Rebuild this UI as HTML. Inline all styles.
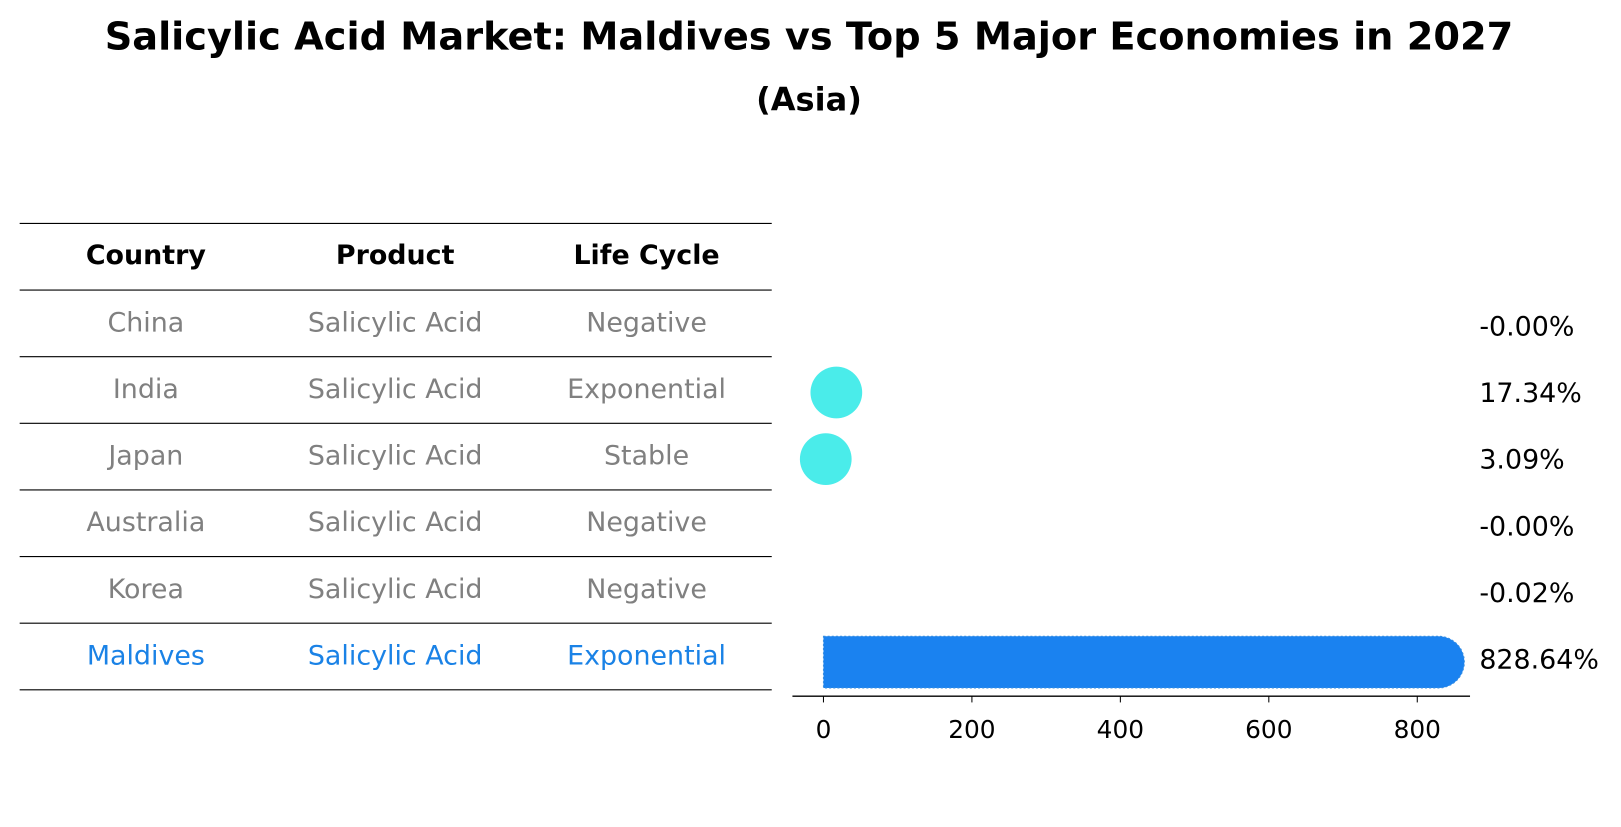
<!DOCTYPE html>
<html><head><meta charset="utf-8"><style>
body{margin:0;background:#fff;font-family:"DejaVu Sans","Liberation Sans",sans-serif}
svg text{font-family:"DejaVu Sans","Liberation Sans",sans-serif}
</style></head><body>
<svg id="c" width="1621" height="823" viewBox="0 0 1621 823" xmlns="http://www.w3.org/2000/svg">
<g transform="scale(1.0345)">
<text x="782" y="36" text-anchor="middle" dominant-baseline="central" font-size="37" font-weight="bold">Salicylic Acid Market: Maldives vs Top 5 Major Economies in 2027</text>
<text x="782" y="96" text-anchor="middle" dominant-baseline="central" font-size="31" font-weight="bold">(Asia)</text>
<g id="table"></g>
<g id="plot"></g>
</g>
</svg>
<script>
const countries=["China","India","Japan","Australia","Korea","Maldives"];
const products=["Salicylic Acid","Salicylic Acid","Salicylic Acid","Salicylic Acid","Salicylic Acid","Salicylic Acid"];
const cycles=["Negative","Exponential","Stable","Negative","Negative","Exponential"];
const values=[-0.001,17.34,3.09,-0.001,-0.02,828.64];
const labels=["-0.00%","17.34%","3.09%","-0.00%","-0.02%","828.64%"];
const ticks=[0,200,400,600,800];
const NS="http://www.w3.org/2000/svg";
function mk(t,a,p){const e=document.createElementNS(NS,t);for(const k in a)e.setAttribute(k,a[k]);p.appendChild(e);return e;}
const xs=v=>796+v*0.7175;
const rowY=i=>312+i*64.4;
const tb=document.getElementById('table'),pl=document.getElementById('plot');
const cols=[141,382,625];
const hdr=["Country","Product","Life Cycle"];
for(let j=0;j<3;j++){const t=mk('text',{x:cols[j],y:247,'text-anchor':'middle','dominant-baseline':'central','font-size':26,'font-weight':'bold'},tb);t.textContent=hdr[j];

}
for(let k=0;k<=7;k++){const y=216+k*64.4;const l=mk('line',{x1:19,x2:746,y1:y,y2:y,stroke:'#000','stroke-width':1},tb);

}
for(let i=0;i<countries.length;i++){
 const y=rowY(i);const col=i===5?'#1a82e6':'#808080';
 [countries[i],products[i],cycles[i]].forEach((s,j)=>{const t=mk('text',{x:cols[j],y:y,'text-anchor':'middle','dominant-baseline':'central','font-size':26,fill:col},tb);t.textContent=s;
 
 });
 const v=values[i];const y2=rowY(i)+3+(i===5?3:0);
 if(v>0.5){
  const c=i===5?'#1a82f0':'#4aecea';
  const x0=xs(0),x1=xs(v);
  if(x1-x0<20){const cc=mk('circle',{cx:x1,cy:y2,r:25,fill:c},pl);
   
   }
  else{const p=mk('path',{d:`M${x0},${y2-25} L${x1},${y2-25} A25,25 0 0 1 ${x1},${y2+25} L${x0},${y2+25} Z`,fill:c,stroke:'#3a8fe0','stroke-width':1,'stroke-dasharray':'2 2'},pl);
   
   }
 }
 const t=mk('text',{x:1430,y:rowY(i)+4,'dominant-baseline':'central','font-size':26},pl);t.textContent=labels[i];
 
 
}
const ax=mk('line',{x1:766,x2:1421,y1:673,y2:673,stroke:'#000','stroke-width':1.3},pl);


ticks.forEach(v=>{const l=mk('line',{x1:xs(v),x2:xs(v),y1:673,y2:679,stroke:'#000'},pl);


const t=mk('text',{x:xs(v),y:705,'text-anchor':'middle','dominant-baseline':'central','font-size':24},pl);t.textContent=v;

});
</script>
</body></html>
